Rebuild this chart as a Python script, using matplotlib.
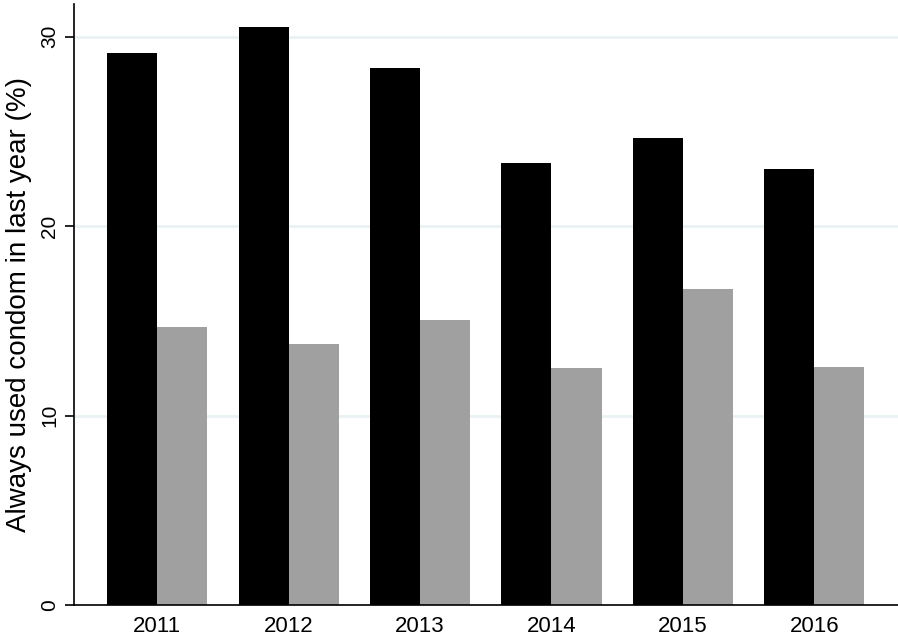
import numpy as np
import matplotlib
matplotlib.use('Agg')
import matplotlib.pyplot as plt

plt.rcParams['font.family'] = ['Liberation Sans', 'DejaVu Sans']

anios = ['2011', '2012', '2013', '2014', '2015', '2016']
serie_negra = [29.14, 30.52, 28.35, 23.34, 24.66, 23.02]
serie_gris = [14.68, 13.78, 15.05, 12.51, 16.68, 12.57]
yticks = [0, 10, 20, 30]

fig = plt.figure(figsize=(8.98, 6.37), dpi=100)
ax = fig.add_axes([0.0819, 0.0502, 0.9181, 0.9435])

x = np.arange(len(anios))
w = 0.381
ax.bar(x - w/2, serie_negra, width=w, color='black', zorder=2)
ax.bar(x + w/2, serie_gris, width=w, color='#a0a0a0', zorder=2)

ax.set_xlim(-0.636, 5.636)
ax.set_ylim(0, 31.73)
ax.set_xticks(x)
ax.set_xticklabels(anios, fontsize=16)
ax.set_yticks(yticks)
ax.set_yticklabels([str(v) for v in yticks], fontsize=15, rotation=90, va='center')
ax.tick_params(axis='x', length=0, pad=8)
ax.tick_params(axis='y', length=6.5, width=1.2, pad=4)
ax.grid(axis='y', color='#eaf2f3', linewidth=2, zorder=0)
ax.set_axisbelow(True)
for s in ['top', 'right']:
    ax.spines[s].set_visible(False)
ax.spines['left'].set_linewidth(1.2)
ax.spines['bottom'].set_linewidth(1.2)
ax.set_ylabel('Always used condom in last year (%)', fontsize=20, labelpad=6)

plt.savefig('out.png', dpi=100)
